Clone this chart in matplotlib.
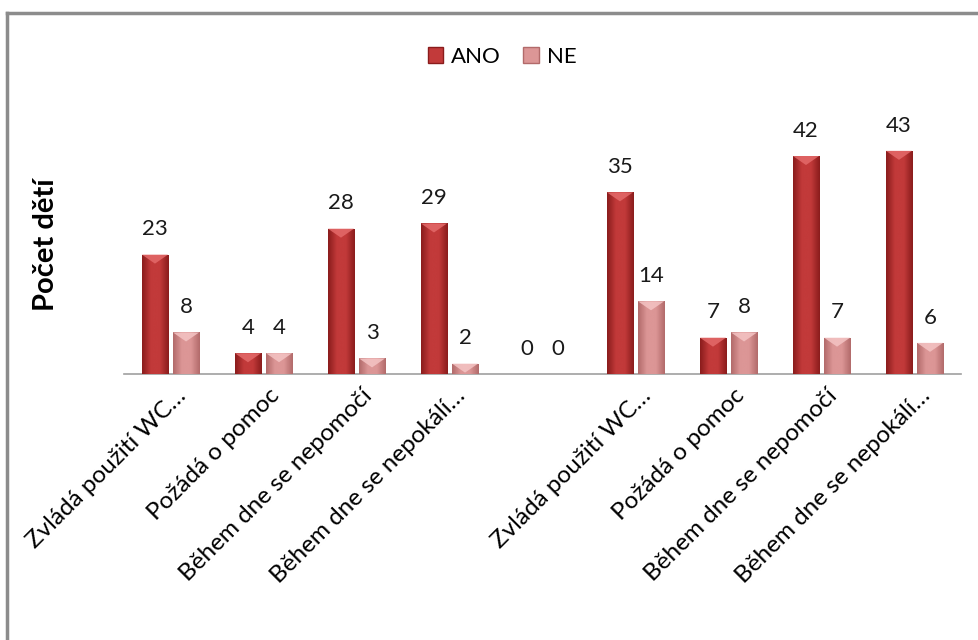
import numpy as np
import matplotlib.pyplot as plt
import matplotlib.transforms as mtransforms
from matplotlib.patches import Polygon, Patch
from matplotlib.lines import Line2D
from matplotlib.colors import LinearSegmentedColormap

plt.rcParams['font.family'] = ['Lato', 'DejaVu Sans']

## data
categories = ["Zvládá použití WC…", "Požádá o pomoc", "Během dne se nepomočí",
              "Během dne se nepokálí…", "",
              "Zvládá použití WC…", "Požádá o pomoc", "Během dne se nepomočí",
              "Během dne se nepokálí…"]
ano = [23, 4, 28, 29, 0, 35, 7, 42, 43]
ne = [8, 4, 3, 2, 0, 14, 8, 7, 6]

## styles: (edge, middle, bevel highlight)
ano_cols = ("#8a1c1c", "#c23a3a", "#e46a6a")
ne_cols = ("#b26a6a", "#dc9696", "#f4c4c4")

width = 0.28
offset = 0.167

fig = plt.figure(figsize=(9.79, 6.40), dpi=100)
ax = fig.add_axes([124/979, 266/640, 837/979, 259.5/640])
ax.set_xlim(-0.5, len(categories) - 0.5)
ax.set_ylim(0, 50)

x = np.arange(len(categories))


def draw_series(xs, vals, cols):
    bars = ax.bar(xs, vals, width, color=cols[1], edgecolor='none', zorder=2)
    cmap = LinearSegmentedColormap.from_list('b', [cols[0], cols[1], cols[1], cols[0]])
    grad = np.linspace(0, 1, 64).reshape(1, -1)
    px_per_unit = ax.bbox.height / (ax.get_ylim()[1] - ax.get_ylim()[0])
    for b, v in zip(bars, vals):
        xc = b.get_x() + b.get_width() / 2
        ax.annotate(str(v), (xc, v), xytext=(0, 11), textcoords='offset points',
                    ha='center', va='bottom', fontsize=16, color='#1a1a1a')
        if v <= 0:
            continue
        x0, x1 = b.get_x(), b.get_x() + b.get_width()
        im = ax.imshow(grad, cmap=cmap, aspect='auto', extent=(x0, x1, 0, v),
                       zorder=3, interpolation='bicubic')
        im.set_clip_path(b)
        d = min(9 / px_per_unit, v)
        tri = Polygon([(x0, v), (x1, v), (xc, v - d)], closed=True,
                      facecolor=cols[2], edgecolor='none', alpha=0.85, zorder=4)
        ax.add_patch(tri)
    return bars


draw_series(x - offset, ano, ano_cols)
draw_series(x + offset, ne, ne_cols)
ax.set_xlim(-0.5, len(categories) - 0.5)
ax.set_ylim(0, 50)

for s in ['top', 'right', 'left']:
    ax.spines[s].set_visible(False)
ax.spines['bottom'].set_color('#a0a0a0')
ax.spines['bottom'].set_linewidth(1.2)
ax.set_yticks([])
ax.set_xticks(x)
ax.set_xticklabels(categories, rotation=45, ha='right', va='top',
                   rotation_mode='anchor', fontsize=17.5)
ax.tick_params(axis='x', length=0, pad=8)
shift = mtransforms.ScaledTranslation(5/100, 0, fig.dpi_scale_trans)
for lbl in ax.get_xticklabels():
    lbl.set_transform(lbl.get_transform() + shift)

ax.set_ylabel("Počet dětí", fontsize=21, fontweight='bold')
ax.yaxis.set_label_coords((59 - 124) / 837, 0.5)

# legend
handles = [Patch(facecolor=ano_cols[1], edgecolor=ano_cols[0]),
           Patch(facecolor=ne_cols[1], edgecolor=ne_cols[0])]
fig.legend(handles, ["ANO", "NE"], loc='center', bbox_to_anchor=(502/979, 1 - 57/640),
           ncol=2, frameon=False, fontsize=16, handlelength=0.7, handleheight=0.7,
           handletextpad=0.35, columnspacing=1.0)

# chart frame (left and top edges)
fig.add_artist(Line2D([7/979, 7/979], [0, 1 - 13/640], transform=fig.transFigure,
                      color='#8c8c8c', linewidth=2.5))
fig.add_artist(Line2D([7/979, 1], [1 - 13/640, 1 - 13/640], transform=fig.transFigure,
                      color='#8c8c8c', linewidth=2.5))

fig.savefig("out.png", dpi=100)
